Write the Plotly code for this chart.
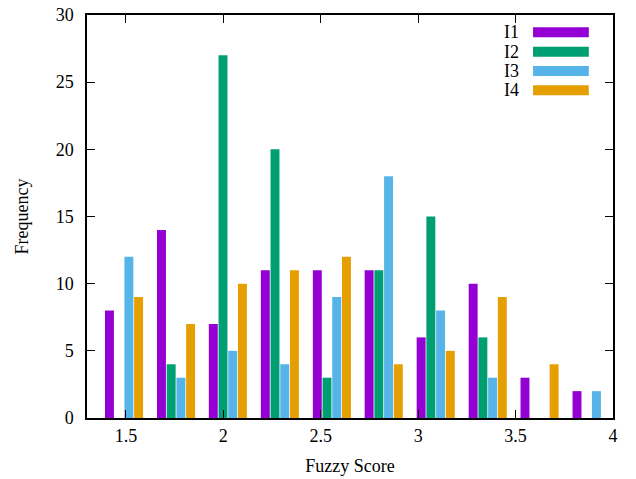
import plotly.graph_objects as go

bin_centers = [1.49, 1.757, 2.023, 2.29, 2.557, 2.823, 3.09, 3.357, 3.623, 3.89]
series_names = ["I1", "I2", "I3", "I4"]
i1 = [8, 14, 7, 11, 11, 11, 6, 10, 3, 2]
i2 = [0, 4, 27, 20, 3, 11, 15, 6, 0, 0]
i3 = [12, 3, 5, 4, 9, 18, 8, 3, 0, 2]
i4 = [9, 7, 10, 11, 12, 4, 5, 9, 4, 0]
colors = ["#9400D3", "#009E73", "#56B4E9", "#E69F00"]
x_ticks = [1.5, 2, 2.5, 3, 3.5, 4]
x_tick_labels = ["1.5", "2", "2.5", "3", "3.5", "4"]
y_ticks = [0, 5, 10, 15, 20, 25, 30]

FONT = "Liberation Serif, Times New Roman, serif"
FS = 18

fig = go.Figure()
for name, vals, col in zip(series_names, [i1, i2, i3, i4], colors):
    fig.add_trace(go.Bar(x=bin_centers, y=vals, name=name, marker=dict(color=col, line=dict(width=0)),
                         showlegend=False))

# custom gnuplot-style legend: text then swatch
row_h = 0.048
for k, (name, col) in enumerate(zip(series_names, colors)):
    yc = 0.957 - k * row_h
    fig.add_shape(type="rect", xref="paper", yref="paper", x0=0.848, x1=0.954,
                  y0=yc - 0.0124, y1=yc + 0.0124, fillcolor=col, line=dict(width=0))
    fig.add_annotation(xref="paper", yref="paper", x=0.825, y=yc, text=name, showarrow=False,
                       xanchor="right", yanchor="middle", font=dict(family=FONT, size=FS, color="black"))

fig.update_layout(
    width=636, height=479,
    margin=dict(l=87, r=23, t=15, b=61),
    paper_bgcolor="white", plot_bgcolor="white",
    barmode="group", bargap=0.25, bargroupgap=0.08,
    font=dict(family=FONT, size=FS, color="black"),
    xaxis=dict(range=[1.3, 4], tickvals=x_ticks, ticktext=x_tick_labels, ticks="inside", ticklen=8,
               tickcolor="black", showline=True, linecolor="black", linewidth=1.5, mirror="ticks",
               showgrid=False, zeroline=False, ticklabelstandoff=1, automargin=False,
               title=dict(text="Fuzzy Score", standoff=14, font=dict(size=FS))),
    yaxis=dict(range=[0, 30], tickvals=y_ticks, ticks="inside", ticklen=8, tickcolor="black",
               showline=True, linecolor="black", linewidth=1.5, mirror="ticks", showgrid=False,
               zeroline=False, ticklabelstandoff=8, automargin=False,
               title=dict(text="Frequency", standoff=22, font=dict(size=FS))),
)

fig.write_html("out.html", config={"displayModeBar": False},
               post_script="document.body.style.margin='0';")
